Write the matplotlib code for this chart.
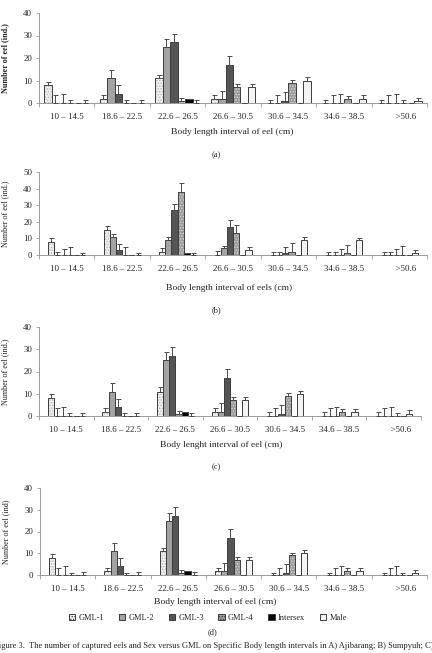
import numpy as np
import matplotlib
matplotlib.use("Agg")
import matplotlib.pyplot as plt
from matplotlib.patches import Patch

plt.rcParams['font.family'] = ['Liberation Serif', 'DejaVu Serif']
plt.rcParams['hatch.linewidth'] = 0.6

categories = ["10 – 14.5", "18.6 – 22.5", "22.6 – 26.5", "26.6 – 30.5",
              "30.6 – 34.5", "34.6 – 38.5", "      >50.6"]
series = ["GML-1", "GML-2", "GML-3", "GML-4", "Intersex", "Male"]

# Panel (a)
a_values = [
    [8, 2, 11, 2, 0, 0, 0],
    [0, 11, 25, 2, 0, 0, 0],
    [0, 4, 27, 17, 1, 0, 0],
    [0, 0, 1, 7, 9, 2, 0],
    [0, 0, 2, 0, 0, 0, 0],
    [0, 0, 0, 7, 10, 2, 1],
]
a_errors = [
    [1.4, 1.4, 1.4, 1.4, 1.4, 1.4, 1.4],
    [3.5, 3.5, 3.5, 3.5, 3.5, 3.5, 3.5],
    [4.0, 3.9, 3.8, 3.8, 3.9, 4.0, 4.0],
    [1.4, 1.4, 1.2, 1.4, 1.4, 1.1, 1.4],
    [0, 0, 0, 0, 0, 0, 0],
    [1.4, 1.4, 1.4, 1.4, 1.4, 1.4, 1.3],
]

# Panel (b)
b_values = [
    [8, 15, 2, 0, 0, 0, 0],
    [0, 11, 9, 4, 0, 0, 0],
    [0, 3, 27, 17, 1, 0, 0],
    [0, 0, 38, 13, 2, 1, 0],
    [0, 0, 1, 0, 0, 0, 0],
    [0, 0, 0, 3, 9, 9, 1],
]
b_errors = [
    [2.0, 2.2, 2.0, 2.3, 2.0, 2.0, 2.0],
    [1.6, 1.7, 1.6, 1.7, 2.0, 2.0, 2.0],
    [3.6, 3.9, 4.0, 4.0, 4.0, 3.8, 3.8],
    [5.0, 5.0, 5.5, 5.3, 5.3, 5.0, 5.3],
    [0, 0, 0, 0, 0, 0, 0],
    [1.4, 1.4, 1.4, 1.6, 1.8, 1.5, 1.8],
]

# Panel (c)
c_values = [
    [8, 2, 11, 2, 0, 0, 0],
    [0, 11, 25, 2, 0, 0, 0],
    [0, 4, 27, 17, 1, 0, 0],
    [0, 0, 1, 7, 9, 2, 0],
    [0, 0, 2, 0, 0, 0, 0],
    [0, 0, 0, 7, 10, 2, 1],
]
c_errors = [
    [1.9, 1.6, 2.0, 1.6, 1.6, 1.6, 1.6],
    [3.4, 3.8, 3.7, 3.7, 3.6, 3.6, 3.6],
    [3.9, 3.8, 4.0, 3.9, 3.9, 4.0, 4.0],
    [1.2, 1.2, 1.2, 1.4, 1.4, 1.3, 1.2],
    [0, 0, 0, 0, 0, 0, 0],
    [1.3, 1.3, 1.3, 1.4, 1.3, 1.3, 1.5],
]

# Panel (d)
d_values = [
    [8, 2, 11, 2, 0, 0, 0],
    [0, 11, 25, 2, 0, 0, 0],
    [0, 4, 27, 17, 1, 0, 0],
    [0, 0, 1, 7, 9, 2, 0],
    [0, 0, 2, 0, 0, 0, 0],
    [0, 0, 0, 7, 10, 2, 1],
]
d_errors = [
    [1.6, 1.4, 1.6, 1.3, 1.1, 1.1, 1.1],
    [3.4, 3.7, 3.4, 3.6, 3.4, 3.4, 3.4],
    [4.0, 3.9, 4.2, 4.0, 4.0, 4.0, 4.0],
    [1.1, 1.1, 1.2, 1.3, 1.3, 1.2, 1.1],
    [0, 0, 0, 0, 0, 0, 0],
    [1.2, 1.2, 1.2, 1.3, 1.3, 1.3, 1.2],
]

facecolors = ['#eeeeee', '#a3a3a3', '#555555', '#9c9c9c', '#000000', '#f4f4f4']
hatchcolors = ['#b8b8b8', None, None, '#d6d6d6', None, None]
hatches = ['......', None, None, '......', None, None]
edge = '#3c3c3c'

W, H = 432, 653
fig = plt.figure(figsize=(W / 100, H / 100), dpi=100)

def frac_rect(x0, y_top, x1, y_bot):
    return [x0 / W, 1 - y_bot / H, (x1 - x0) / W, (y_bot - y_top) / H]

panels = [
    dict(vals=a_values, errs=a_errors, rect=frac_rect(39, 13, 427, 103), ymax=40,
         bw=0.135, ylabel="Number of eel (ind.)", bold=True,
         xlabel="Body length interval of eel (cm)", xl=(232, 132), tag=("(a)", 216, 155)),
    dict(vals=b_values, errs=b_errors, rect=frac_rect(39, 172, 427, 255), ymax=50,
         bw=0.112, ylabel="Number of eel (ind.)", bold=False,
         xlabel="Body length interval of eels (cm)", xl=(229, 288), tag=("(b)", 216, 310)),
    dict(vals=c_values, errs=c_errors, rect=frac_rect(39, 327, 421, 416), ymax=40,
         bw=0.113, ylabel="Number of eel (ind.)", bold=False,
         xlabel="Body lenght interval of eel (cm)", xl=(221, 445), tag=("(c)", 216, 467)),
    dict(vals=d_values, errs=d_errors, rect=frac_rect(40, 488, 427, 575), ymax=40,
         bw=0.112, ylabel="Number of eel (ind)", bold=False,
         xlabel="Body length interval of eel (cm)", xl=(215, 602), tag=("(d)", 213, 632)),
]

x = np.arange(len(categories))
for p in panels:
    ax = fig.add_axes(p['rect'])
    bw = p['bw']
    n = len(series)
    for i in range(n):
        vals = np.array(p['vals'][i], dtype=float)
        errs = np.array(p['errs'][i], dtype=float)
        pos = x + (i - (n - 1) / 2) * bw
        if hatches[i]:
            ax.bar(pos, vals, bw, color=facecolors[i], edgecolor=hatchcolors[i],
                   hatch=hatches[i], linewidth=0, zorder=2)
            ax.bar(pos, vals, bw, fill=False, edgecolor=edge, linewidth=0.7, zorder=3,
                   yerr=[np.zeros_like(errs), errs],
                   error_kw=dict(ecolor='#4a4a4a', elinewidth=0.7, capsize=1.8, capthick=0.7))
        else:
            ax.bar(pos, vals, bw, color=facecolors[i], edgecolor=edge, linewidth=0.7, zorder=3,
                   yerr=[np.zeros_like(errs), errs],
                   error_kw=dict(ecolor='#4a4a4a', elinewidth=0.7, capsize=1.8, capthick=0.7))
    ax.set_xlim(-0.5, len(categories) - 0.5)
    ax.set_ylim(0, p['ymax'])
    ax.set_yticks(np.arange(0, p['ymax'] + 1, 10))
    ax.set_xticks(x)
    ax.set_xticklabels(categories)
    ax.set_xticks(np.arange(-0.5, len(categories), 1.0), minor=True)
    ax.tick_params(axis='x', which='major', length=0, pad=7, labelsize=6.4, colors='#222222')
    ax.tick_params(axis='x', which='minor', length=3, width=0.6, color='#9a9a9a')
    ax.tick_params(axis='y', which='major', length=2, width=0.6, color='#9a9a9a',
                   labelsize=6.4, labelcolor='#222222', pad=3)
    for s in ['top', 'right']:
        ax.spines[s].set_visible(False)
    for s in ['left', 'bottom']:
        ax.spines[s].set_color('#9a9a9a')
        ax.spines[s].set_linewidth(0.7)
    ax.set_ylabel(p['ylabel'], fontsize=5.9, fontweight='bold' if p['bold'] else 'normal',
                  color='#222222')
    ax.yaxis.set_label_coords(-0.078, 0.5)
    fig.text(p['xl'][0] / W, 1 - p['xl'][1] / H, p['xlabel'], ha='center', va='center',
             fontsize=6.8, color='#222222')
    t, tx, ty = p['tag']
    fig.text(tx / W, 1 - ty / H, t, ha='center', va='center', fontsize=6, color='#222222')

handles = []
for i in range(len(series)):
    if hatches[i]:
        handles.append(Patch(facecolor=facecolors[i], edgecolor=edge, hatch=hatches[i],
                             linewidth=0.7, label=series[i]))
    else:
        handles.append(Patch(facecolor=facecolors[i], edgecolor=edge, linewidth=0.7,
                             label=series[i]))
fig.legend(handles=handles, loc='center', bbox_to_anchor=(208 / W, 1 - 618 / H), ncol=6,
           frameon=False, fontsize=6, handlelength=0.75, handleheight=0.75,
           handletextpad=0.4, columnspacing=1.75, borderpad=0, labelcolor='#222222')

fig.text(-6 / W, 1 - 646 / H,
         "Figure 3.  The number of captured eels and Sex versus GML on Specific Body length "
         "intervals in A) Ajibarang; B) Sumpyuh; C)",
         ha='left', va='center', fontsize=6.15, color='#222222')

fig.savefig("out.png", dpi=100)
